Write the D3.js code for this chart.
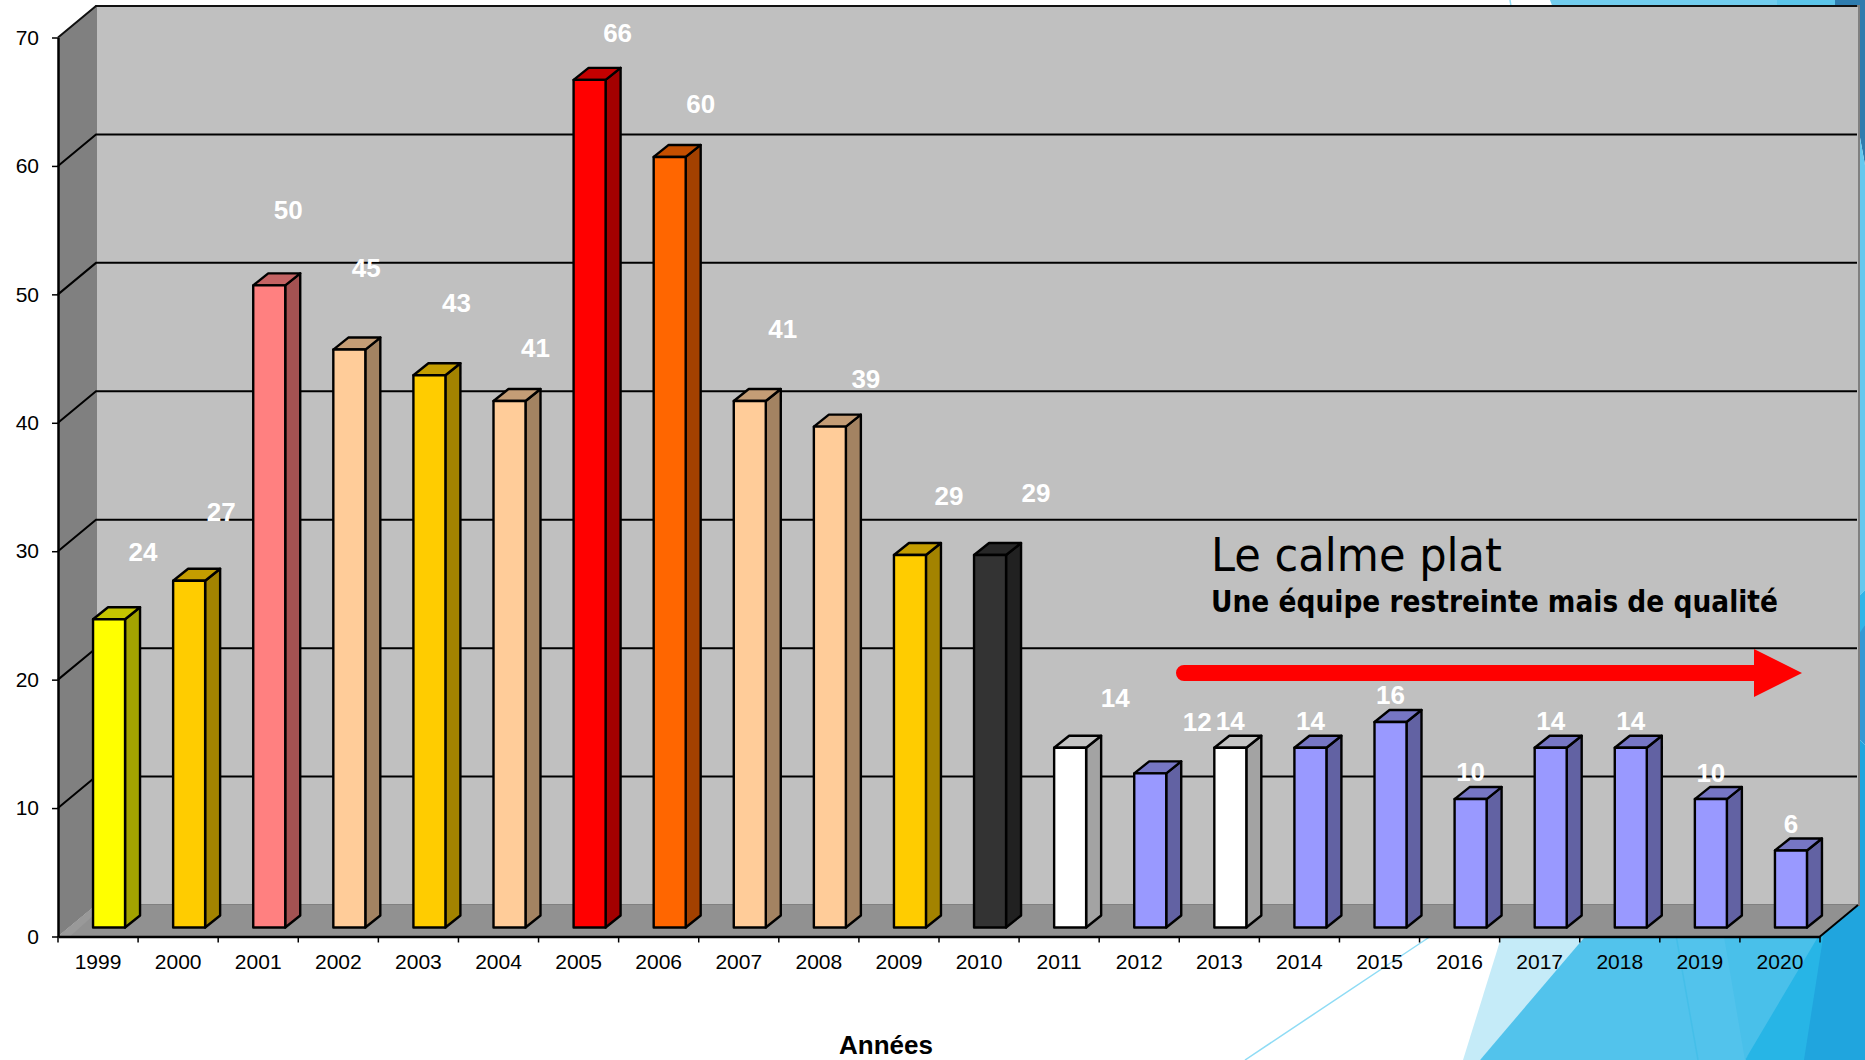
<!DOCTYPE html>
<html>
<head>
<meta charset="utf-8">
<style>
html, body { margin: 0; padding: 0; background: #fff; overflow: hidden; }
svg { display: block; }
</style>
<script src="https://cdn.jsdelivr.net/npm/d3@7"></script>
</head>
<body>
<svg></svg>
<script>
const years = ['1999','2000','2001','2002','2003','2004','2005','2006','2007','2008','2009','2010','2011','2012','2013','2014','2015','2016','2017','2018','2019','2020']
const values = [24,27,50,45,43,41,66,60,41,39,29,29,14,12,14,14,16,10,14,14,10,6]
const barColors = ['#ffff00','#ffcc00','#ff8080','#ffcc99','#ffcc00','#ffcc99','#ff0000','#ff6600','#ffcc99','#ffcc99','#ffcc00','#333333','#ffffff','#9999ff','#ffffff','#9999ff','#9999ff','#9999ff','#9999ff','#9999ff','#9999ff','#9999ff']
const yTicks = [0,10,20,30,40,50,60,70]

// value labels were moved by hand in the original, offsets from the bar top
const labelDx = [34,32,19,17,27,26,28,31,33,36,39,46,45,47,0,0,0,0,0,0,0,0]
const labelDy = [-68,-69,-76,-82,-73,-53,-47,-53,-72,-48,-59,-62,-50,-52,-27,-27,-27,-27,-27,-27,-26,-27]

const W = 1865, H = 1060
const plot = {left: 58, right: 1820, top: 37.5, bottom: 936.5}
const depth = {x: 38, y: -31.5}       // wall offset
const bar = {w: 32, dx: 15, dy: -12, shift: 11, lift: 9}

const svg = d3.select('svg').attr('width', W).attr('height', H)

const x = d3.scaleBand().domain(years).range([plot.left, plot.right])
const y = d3.scaleLinear().domain([0, 70]).range([plot.bottom, plot.top])

// slide background shapes
const bg = svg.append('g')
const shapes = [
	['#c5ebf8', [[1505,925],[1600,925],[1480,1060],[1463,1060]]],
	['#52c3ec', [[1595,925],[1840,925],[1745,1060],[1480,1060]]],
	['#49c0ea', [[1722,925],[1840,925],[1745,1060]]],
	['#27b5e6', [[1825,925],[1865,925],[1865,1060],[1745,1060]]],
	['#20a5de', [[1825,925],[1865,900],[1865,1060],[1804,1060]]],
	['#72cdee', [[1550,0],[1777,0],[1777,8],[1553,8]]],
	['#5cc5ea', [[1777,0],[1835,0],[1835,8],[1777,8]]],
	['#2f7cae', [[1835,0],[1865,0],[1865,165],[1855,110],[1855,8],[1835,8]]],
	['#64c8ee', [[1855,110],[1865,165],[1865,590],[1855,600]]],
	['#2fb5e8', [[1855,600],[1865,590],[1865,625],[1855,700]]],
	['#3498d4', [[1855,640],[1865,625],[1865,745],[1855,735]]],
	['#20a5de', [[1855,735],[1865,745],[1865,930],[1855,930]]]
]
bg.selectAll('polygon')
	.data(shapes)
	.join('polygon')
	.attr('points', d => d[1].join(' '))
	.attr('fill', d => d[0])
bg.append('line').attr('x1', 1245).attr('y1', 1060).attr('x2', 1440).attr('y2', 930)
	.attr('stroke', '#8fdcf5').attr('stroke-width', 1.5)
bg.append('line').attr('x1', 1676).attr('y1', 935).attr('x2', 1698).attr('y2', 1060)
	.attr('stroke', '#45bfe9').attr('stroke-width', 1.5)
bg.append('line').attr('x1', 1510).attr('y1', 0).attr('x2', 1511).attr('y2', 6)
	.attr('stroke', '#8fdcf5').attr('stroke-width', 1.5)

// walls and floor
const y0 = y(0), yTop = y(70), xL = plot.left, xR = plot.right
const walls = svg.append('g')
walls.append('rect')
	.attr('x', xL + depth.x).attr('y', yTop + depth.y)
	.attr('width', xR - xL + 1).attr('height', y0 - yTop)
	.attr('fill', '#c0c0c0').attr('stroke', '#808080').attr('stroke-width', 2)
walls.append('path')
	.attr('d', `M${xL},${yTop}L${xL + depth.x},${yTop + depth.y}V${y0 + depth.y}L${xL},${y0}Z`)
	.attr('fill', '#808080')
walls.append('path')
	.attr('d', `M${xL},${y0}L${xL + depth.x},${y0 + depth.y}H${xR + depth.x}L${xR},${y0}Z`)
	.attr('fill', '#919191')
walls.append('path')
	.attr('d', `M${xL},${y0}L${xL + depth.x},${y0 + depth.y}V${y0 + depth.y + 8}L${xL + 12},${y0}Z`)
	.attr('fill', '#999999')

// gridlines, back wall plus the diagonal on the left wall
const grid = svg.append('g').attr('fill', 'none').attr('stroke', '#000').attr('stroke-width', 2)
grid.selectAll('path')
	.data(yTicks.filter(d => d > 0))
	.join('path')
	.attr('d', d => `M${xL},${y(d)}L${xL + depth.x},${y(d) + depth.y}H${xR + depth.x - 1}`)
	.attr('stroke', d => d === 70 ? '#111' : '#000')
	.attr('stroke-width', 2)
svg.append('path')
	.attr('d', `M${xR},${y0}L${xR + depth.x},${y0 + depth.y}`)
	.attr('stroke', '#000').attr('stroke-width', 2).attr('fill', 'none')

// bars
const shade = (c, k) => {
	const r = d3.rgb(c)
	return d3.rgb(r.r * k, r.g * k, r.b * k).formatHex()
}
const rows = years.map((year, i) => ({year, value: values[i], color: barColors[i], i}))
const barX = d => x(d.year) + (x.bandwidth() - bar.w) / 2 + bar.shift
const barTop = d => y(d.value) - bar.lift
const barBottom = y(0) - bar.lift

const bars = svg.append('g')
	.selectAll('g')
	.data(rows)
	.join('g')
	.attr('stroke', '#000')
	.attr('stroke-width', 2.4)
	.attr('stroke-linejoin', 'round')
bars.append('path')
	.attr('fill', d => shade(d.color, 0.64))
	.attr('d', d => `M${barX(d) + bar.w},${barTop(d)}l${bar.dx},${bar.dy}V${barBottom + bar.dy}l${-bar.dx},${-bar.dy}Z`)
bars.append('path')
	.attr('fill', d => shade(d.color, 0.77))
	.attr('d', d => `M${barX(d)},${barTop(d)}l${bar.dx},${bar.dy}h${bar.w}l${-bar.dx},${-bar.dy}Z`)
bars.append('rect')
	.attr('fill', d => d.color)
	.attr('x', barX)
	.attr('y', barTop)
	.attr('width', bar.w)
	.attr('height', d => barBottom - barTop(d))

// value labels
svg.append('g')
	.selectAll('text')
	.data(rows)
	.join('text')
	.attr('x', d => barX(d) + bar.w / 2 + labelDx[d.i])
	.attr('y', d => barTop(d) + labelDy[d.i])
	.attr('dy', '0.36em')
	.attr('text-anchor', 'middle')
	.attr('font-family', '"Liberation Sans", Arial, sans-serif')
	.attr('font-weight', 700)
	.attr('font-size', 26)
	.attr('fill', '#fff')
	.text(d => d.value)

// axes
const yAxis = svg.append('g')
	.attr('transform', `translate(${xL},0)`)
	.call(d3.axisLeft(y).tickValues(yTicks).tickSize(6).tickPadding(13).tickSizeOuter(0))
const xAxis = svg.append('g')
	.attr('transform', `translate(0,${y0})`)
	.call(d3.axisBottom(x).tickSize(0).tickPadding(18).tickSizeOuter(0))
// ticks sit on the band edges in this chart, not the band centres
svg.append('g')
	.selectAll('line')
	.data(years.concat(['end']))
	.join('line')
	.attr('x1', (d, i) => xL + i * x.step())
	.attr('x2', (d, i) => xL + i * x.step())
	.attr('y1', y0)
	.attr('y2', y0 + 6)
	.attr('stroke', '#000')
	.attr('stroke-width', 1.5)

for (const a of [xAxis, yAxis]) {
	a.attr('font-family', '"Liberation Sans", Arial, sans-serif').attr('font-size', 21)
	a.selectAll('text').attr('fill', '#000')
	a.selectAll('.domain').attr('stroke', '#000').attr('stroke-width', 2.5)
	a.selectAll('.tick line').attr('stroke', '#000').attr('stroke-width', 1.5)
}
yAxis.selectAll('.tick text').attr('x', -19)

svg.append('text')
	.attr('x', 886)
	.attr('y', 1054)
	.attr('text-anchor', 'middle')
	.attr('font-family', '"Liberation Sans", Arial, sans-serif')
	.attr('font-weight', 700)
	.attr('font-size', 26)
	.attr('fill', '#000')
	.text('Années')

// annotation
const note = svg.append('g')
	.attr('font-family', '"DejaVu Sans", sans-serif')
	.attr('fill', '#000')
note.append('text')
	.attr('x', 1211).attr('y', 571)
	.attr('font-size', 47)
	.attr('textLength', 291).attr('lengthAdjust', 'spacingAndGlyphs')
	.text('Le calme plat')
note.append('text')
	.attr('x', 1211).attr('y', 612)
	.attr('font-size', 30)
	.attr('font-weight', 700)
	.attr('textLength', 567).attr('lengthAdjust', 'spacingAndGlyphs')
	.text('Une équipe restreinte mais de qualité')

svg.append('path')
	.attr('d', 'M1184,665H1754V649L1802,673L1754,697V681H1184A8,8 0 0 1 1184,665Z')
	.attr('fill', '#ff0000')
</script>
</body>
</html>
